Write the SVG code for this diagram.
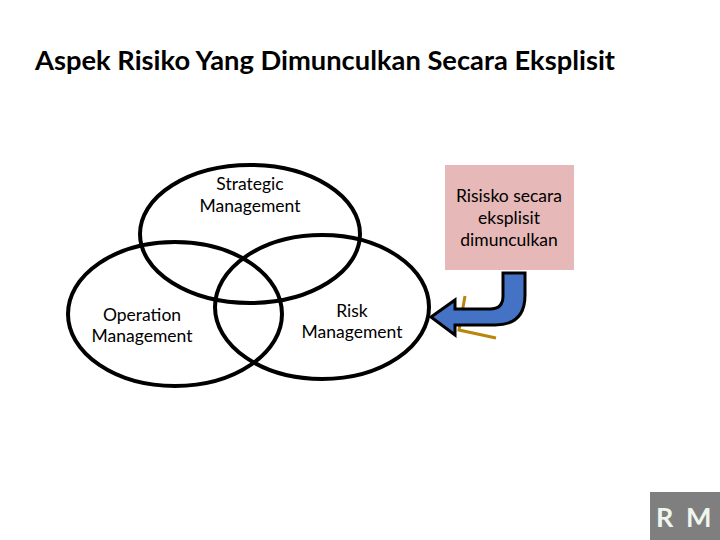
<svg xmlns="http://www.w3.org/2000/svg" width="720" height="540" viewBox="0 0 720 540">
<style>
text{font-family:Lato,"Open Sans","Liberation Sans",sans-serif;fill:#000}
.title{font-size:27px;font-weight:bold}
.lbl{font-size:17.5px;text-anchor:middle}
.ring{fill:none;stroke:#000;stroke-width:4}
.rm{font-size:27px;font-weight:bold;fill:#eef6ee}
</style>
<rect width="720" height="540" fill="#fff"/>
<text class="title" x="35" y="70" textLength="580" lengthAdjust="spacingAndGlyphs">Aspek Risiko Yang Dimunculkan Secara Eksplisit</text>
<g id="strategic">
<ellipse class="ring" cx="250" cy="234" rx="110" ry="69"/>
</g>
<g id="operation">
<ellipse class="ring" cx="175" cy="314" rx="107" ry="72"/>
</g>
<g id="risk">
<ellipse class="ring" cx="322" cy="307" rx="107" ry="72"/>
</g>
<g id="labels">
<text class="lbl" x="250" y="190">Strategic</text>
<text class="lbl" x="250" y="212">Management</text>
<text class="lbl" x="142" y="321">Operation</text>
<text class="lbl" x="142" y="342">Management</text>
<text class="lbl" x="352" y="317">Risk</text>
<text class="lbl" x="352" y="338">Management</text>
</g>
<g id="note">
<rect x="445" y="165" width="129" height="105" fill="#e6b8b7"/>
<text class="lbl" x="509" y="202">Risisko secara</text>
<text class="lbl" x="509" y="224">eksplisit</text>
<text class="lbl" x="509" y="246">dimunculkan</text>
</g>
<g id="connectors">
<polyline points="465,296 459,330 496,338" fill="none" stroke="#b8860b" stroke-width="3"/>
<path d="M503,273 H525 V295 Q525,325 495,325 H455 V335 L431,317 L455,300 V309 H490 Q503,309 503,296 Z" fill="#4472c4" stroke="#000" stroke-width="3" stroke-linejoin="miter"/>
</g>
<g id="badge">
<rect x="650" y="492" width="70" height="48" fill="#7f7f7f"/>
<text class="rm" x="656" y="527">R</text>
<text class="rm" x="686" y="527">M</text>
</g>
</svg>
